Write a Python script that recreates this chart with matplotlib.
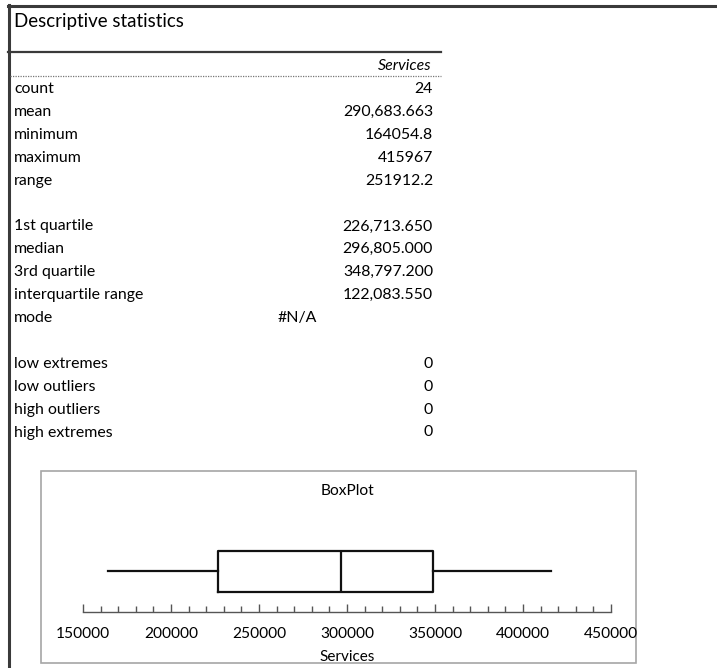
import matplotlib
matplotlib.use("Agg")
import matplotlib.pyplot as plt
from matplotlib.patches import Rectangle
from matplotlib.lines import Line2D
from matplotlib.ticker import MultipleLocator

plt.rcParams["font.family"] = ["Lato", "DejaVu Sans"]

# Summary table
title = "Descriptive statistics"
column_name = "Services"
stat_labels = ["count", "mean", "minimum", "maximum", "range", "",
               "1st quartile", "median", "3rd quartile", "interquartile range", "mode", "",
               "low extremes", "low outliers", "high outliers", "high extremes"]
stat_values = ["24", "290,683.663", "164054.8", "415967", "251912.2", "",
               "226,713.650", "296,805.000", "348,797.200", "122,083.550", "#N/A", "",
               "0", "0", "0", "0"]

# Box plot axis
chart_title = "BoxPlot"
x_ticks = [150000, 200000, 250000, 300000, 350000, 400000, 450000]


def stat(name):
    return float(stat_values[stat_labels.index(name)].replace(",", ""))


W, H = 717, 668
fig = plt.figure(figsize=(W / 100, H / 100), dpi=100)
fig.patch.set_facecolor("white")

# Overlay axes in pixel units for the table
ov = fig.add_axes([0, 0, 1, 1])
ov.set_xlim(0, W)
ov.set_ylim(H, 0)
ov.axis("off")

txt_col = "#000000"
frame_col = "#3a3a3a"
ov.add_line(Line2D([8, W], [5.5, 5.5], color=frame_col, lw=2.2))
ov.add_line(Line2D([9, 9], [5, H], color=frame_col, lw=2.2))
ov.add_line(Line2D([8, 441], [52, 52], color=frame_col, lw=1.6))
ov.add_line(Line2D([10, 441], [76, 76], color="#777777", lw=0.9, ls=(0, (1, 1))))

fs = 11.4
ov.text(14, 21, title, fontsize=13.5, ha="left", va="center", color=txt_col)
ov.text(432, 66, column_name, fontsize=fs, style="italic", ha="right", va="center", color=txt_col)

row0, step = 89, 22.9
for i, (lab, val) in enumerate(zip(stat_labels, stat_values)):
    y = row0 + i * step
    if lab:
        ov.text(14, y, lab, fontsize=fs, ha="left", va="center", color=txt_col)
    if val:
        if val.startswith("#"):
            ov.text(297, y, val, fontsize=fs, ha="center", va="center", color=txt_col)
        else:
            ov.text(433, y, val, fontsize=fs, ha="right", va="center", color=txt_col)

# Chart panel border and title
ov.add_patch(Rectangle((41, 471), 595, 192, fill=False, edgecolor="#a6a6a6", lw=1.2))
ov.text(347, 491, chart_title, fontsize=11.2, ha="center", va="center", color=txt_col)

# Box plot axes placed in pixel coordinates
x0, x1 = 83, 611
yb, yt = 612, 530
ax = fig.add_axes([x0 / W, 1 - yb / H, (x1 - x0) / W, (yb - yt) / H])
ax.set_facecolor("none")

box = {
    "q1": stat("1st quartile"),
    "med": stat("median"),
    "q3": stat("3rd quartile"),
    "whislo": stat("minimum"),
    "whishi": stat("maximum"),
    "fliers": [],
    "label": column_name,
}
line_kw = dict(color="#111111", linewidth=1.6)
ax.bxp([box], positions=[0.5], widths=0.5, orientation="horizontal",
       showcaps=False, showfliers=False, patch_artist=False,
       boxprops=line_kw, whiskerprops=line_kw, medianprops=line_kw)

ax.set_xlim(x_ticks[0], x_ticks[-1])
ax.set_ylim(0, 1)
ax.set_xticks(x_ticks)
ax.set_xticklabels([str(t) for t in x_ticks], fontsize=11.2, color=txt_col)
ax.xaxis.set_minor_locator(MultipleLocator(10000))
ax.tick_params(axis="x", which="major", direction="in", length=6, width=1, color="#555555", pad=11)
ax.tick_params(axis="x", which="minor", direction="in", length=4, width=1, color="#555555")
ax.set_yticks([])
for side in ("top", "left", "right"):
    ax.spines[side].set_visible(False)
ax.spines["bottom"].set_color("#555555")
ax.spines["bottom"].set_linewidth(1)
ax.set_xlabel(column_name, fontsize=11, color=txt_col, labelpad=6)

fig.savefig("out.png", dpi=100, facecolor="white")
